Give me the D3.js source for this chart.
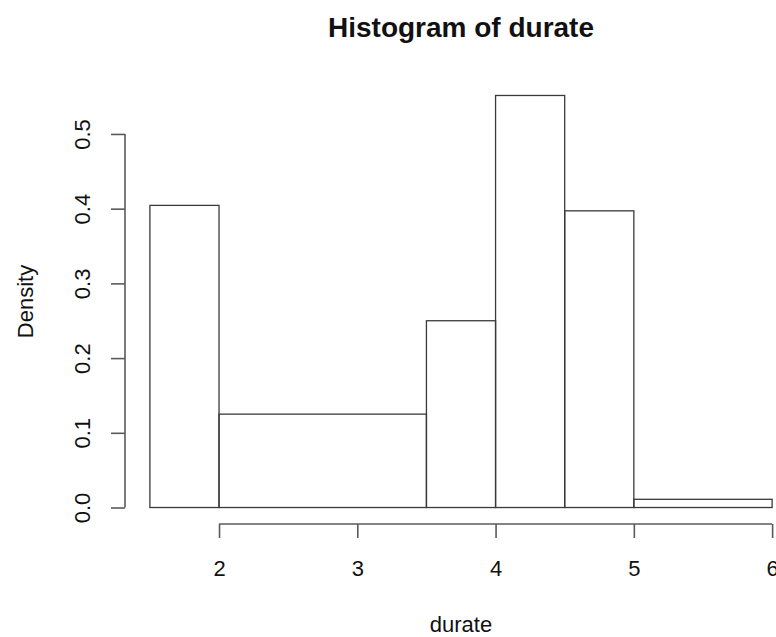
<!DOCTYPE html>
<html>
<head>
<meta charset="utf-8">
<script src="https://cdn.jsdelivr.net/npm/d3@7"></script>
<style>
  html, body { margin: 0; padding: 0; background: #ffffff; }
  svg { display: block; }
  text { font-family: "Liberation Sans", Arial, Helvetica, sans-serif; fill: #111; }
</style>
</head>
<body>
<svg id="chart" width="776" height="637"></svg>
<script>
// Histogram bins of durate (density scale)
const breaks = [1.5, 2, 3.5, 4, 4.5, 5, 6];
const densities = [0.4044, 0.1250, 0.2500, 0.5515, 0.3971, 0.0110];
const xTicks = [2, 3, 4, 5, 6];
const yTicks = [0.0, 0.1, 0.2, 0.3, 0.4, 0.5];
const titleText = "Histogram of durate";
const xLabel = "durate";
const yLabel = "Density";

const bins = densities.map((d, i) => ({ x0: breaks[i], x1: breaks[i + 1], density: d }));

// plot region, with the 4% padding on both data ranges
const plot = { left: 125, right: 797, top: 79, bottom: 524 };
const pad = (lo, hi) => { const e = (hi - lo) * 0.04; return [lo - e, hi + e]; };

const x = d3.scaleLinear()
  .domain(pad(d3.min(breaks), d3.max(breaks)))
  .range([plot.left, plot.right]);
const y = d3.scaleLinear()
  .domain(pad(0, d3.max(densities)))
  .range([plot.bottom, plot.top]);

const svg = d3.select("#chart");
const axisColor = "#5a5a5a";
const tickLen = 14;

// bars
svg.append("g")
  .selectAll("rect")
  .data(bins)
  .join("rect")
  .attr("x", d => x(d.x0))
  .attr("y", d => y(d.density))
  .attr("width", d => x(d.x1) - x(d.x0))
  .attr("height", d => y(0) - y(d.density))
  .attr("fill", "none")
  .attr("stroke", "#3a3a3a")
  .attr("stroke-width", 1.3);

// x axis
const gx = svg.append("g")
  .attr("transform", `translate(0,${plot.bottom})`)
  .call(d3.axisBottom(x).tickValues(xTicks).tickFormat(d3.format("d"))
    .tickSize(tickLen).tickSizeOuter(0));
gx.select(".domain").remove();
gx.append("line")
  .attr("x1", x(xTicks[0])).attr("x2", x(xTicks[xTicks.length - 1]))
  .attr("stroke", axisColor).attr("stroke-width", 1.6);
gx.selectAll(".tick line").attr("stroke", axisColor).attr("stroke-width", 1.6);
gx.selectAll(".tick text")
  .attr("y", 52).attr("dy", null)
  .style("font-size", "22px").attr("fill", "#111");

// y axis
const gy = svg.append("g")
  .attr("transform", `translate(${plot.left},0)`)
  .call(d3.axisLeft(y).tickValues(yTicks).tickFormat(d3.format(".1f"))
    .tickSize(tickLen).tickSizeOuter(0));
gy.select(".domain").remove();
gy.append("line")
  .attr("y1", y(yTicks[0])).attr("y2", y(yTicks[yTicks.length - 1]))
  .attr("stroke", axisColor).attr("stroke-width", 1.6);
gy.selectAll(".tick line").attr("stroke", axisColor).attr("stroke-width", 1.6);
gy.selectAll(".tick text")
  .attr("x", null).attr("dy", null)
  .attr("text-anchor", "middle")
  .attr("transform", "translate(-35,0) rotate(-90)")
  .style("font-size", "22px").attr("fill", "#111");

// titles
svg.append("text")
  .attr("x", (plot.left + plot.right) / 2)
  .attr("y", 37)
  .attr("text-anchor", "middle")
  .style("font-size", "28px")
  .style("font-weight", "bold")
  .text(titleText);

svg.append("text")
  .attr("x", (plot.left + plot.right) / 2)
  .attr("y", 632)
  .attr("text-anchor", "middle")
  .style("font-size", "22px")
  .text(xLabel);

svg.append("text")
  .attr("transform", `translate(33,${(plot.top + plot.bottom) / 2}) rotate(-90)`)
  .attr("text-anchor", "middle")
  .style("font-size", "22px")
  .text(yLabel);
</script>
</body>
</html>
